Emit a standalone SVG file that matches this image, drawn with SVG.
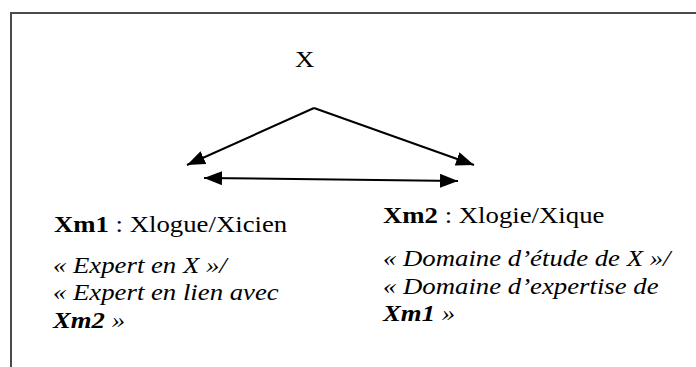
<svg xmlns="http://www.w3.org/2000/svg" width="696" height="367" viewBox="0 0 696 367">
  <style>
    .frame { fill: none; stroke: #4a4a4a; stroke-width: 2; }
    .link { fill: none; stroke: #000; stroke-width: 2; }
    text { font-family: "Liberation Serif", "Times New Roman", serif; font-size: 24px; fill: #000; }
    .b { font-weight: bold; }
    .i { font-style: italic; }
  </style>
  <defs>
    <marker id="head" markerUnits="userSpaceOnUse" markerWidth="18" markerHeight="14" refX="18" refY="7" orient="auto-start-reverse">
      <path d="M0,0 L18,7 L0,14 z" fill="#000"/>
    </marker>
  </defs>

  <rect width="696" height="367" fill="#fff"/>
  <!-- frame: only the top and left edges fall inside the page -->
  <path class="frame" d="M11,367 V13 H697"/>

  <g id="connectors">
    <path class="link" d="M314,108 L187,165" marker-end="url(#head)"/>
    <path class="link" d="M314,108 L474,165" marker-end="url(#head)"/>
    <path class="link" d="M204,178 L458,181" marker-start="url(#head)" marker-end="url(#head)"/>
  </g>

  <g transform="scale(1.115 1)">
    <g id="node-x">
      <text x="264.6" y="67">X</text>
    </g>
    <g id="node-xm1">
      <text x="48.4" y="232"><tspan class="b">Xm1</tspan> : Xlogue/Xicien</text>
      <text class="i" x="47.5" y="273">« Expert en X »/</text>
      <text class="i" x="47.5" y="300">« Expert en lien avec</text>
      <text class="i" x="47.5" y="328"><tspan class="b">Xm2</tspan> »</text>
    </g>
    <g id="node-xm2">
      <text x="343.5" y="223"><tspan class="b">Xm2</tspan> : Xlogie/Xique</text>
      <text class="i" x="343.5" y="266">« Domaine d’étude de X »/</text>
      <text class="i" x="343.5" y="294">« Domaine d’expertise de</text>
      <text class="i" x="343.5" y="321"><tspan class="b">Xm1</tspan> »</text>
    </g>
  </g>
</svg>
